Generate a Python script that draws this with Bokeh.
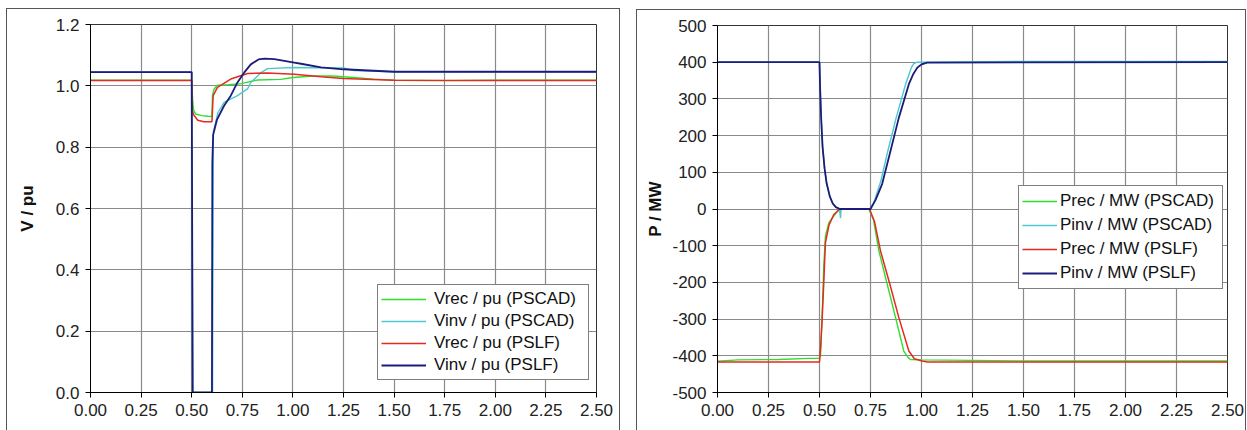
from bokeh.plotting import figure
from bokeh.layouts import row
from bokeh.models import Legend, LegendItem, FixedTicker, NumeralTickFormatter, Range1d
from bokeh.embed import file_html
from bokeh.resources import INLINE

# ---------------- Left panel: voltages (pu) ----------------
t_vrec_pscad = [0.0, 0.5, 0.502, 0.505, 0.51, 0.52, 0.55, 0.58, 0.6, 0.603, 0.61, 0.627, 0.68, 0.743, 0.825,
                0.94, 1.0, 1.1, 1.2, 1.3, 1.4, 1.5, 1.75, 2.0, 2.25, 2.5]
v_vrec_pscad = [1.018, 1.018, 0.99, 0.95, 0.92, 0.908, 0.903, 0.901, 0.90, 0.97, 0.989, 1.002, 1.004, 1.007, 1.019,
                1.021, 1.027, 1.032, 1.032, 1.027, 1.022, 1.018, 1.017, 1.018, 1.018, 1.018]

t_vinv_pscad = [0.0, 0.5, 0.505, 0.603, 0.607, 0.63, 0.66, 0.726, 0.776, 0.792, 0.842, 0.875, 1.0, 1.25, 1.3,
                1.5, 2.0, 2.5]
v_vinv_pscad = [1.045, 1.045, 0.0, 0.0, 0.85, 0.913, 0.946, 0.968, 0.99, 1.011, 1.043, 1.056, 1.06, 1.058, 1.05,
                1.046, 1.046, 1.045]

t_vrec_pslf = [0.0, 0.5, 0.503, 0.51, 0.53, 0.56, 0.6, 0.606, 0.627, 0.693, 0.776, 0.875, 1.007, 1.139,
               1.25, 1.5, 2.0, 2.5]
v_vrec_pslf = [1.017, 1.017, 0.919, 0.905, 0.888, 0.883, 0.883, 0.968, 0.995, 1.022, 1.04, 1.042, 1.038, 1.03,
               1.024, 1.018, 1.017, 1.017]

t_vinv_pslf = [0.0, 0.5, 0.505, 0.6, 0.602, 0.606, 0.625, 0.66, 0.693, 0.726, 0.759, 0.792, 0.83, 0.86,
               0.908, 1.007, 1.04, 1.139, 1.25, 1.5, 2.0, 2.5]
v_vinv_pslf = [1.045, 1.045, 0.0, 0.0, 0.75, 0.84, 0.89, 0.935, 0.968, 1.011, 1.043, 1.07, 1.086, 1.089,
               1.087, 1.076, 1.072, 1.06, 1.054, 1.046, 1.046, 1.046]

# ---------------- Right panel: powers (MW) ----------------
t_prec_pscad = [0.0, 0.1, 0.3, 0.45, 0.5, 0.505, 0.513, 0.521, 0.529, 0.546, 0.57, 0.59, 0.6, 0.742, 0.765,
                0.791, 0.832, 0.873, 0.913, 0.935, 0.946, 1.0, 1.5, 2.0, 2.5]
p_prec_pscad = [-415, -411, -410, -407, -407, -400, -292, -155, -74, -37, -19, -5, 0, 0, -30,
                -114, -205, -296, -387, -405, -410, -411, -414, -414, -414]

t_pinv_pscad = [0.0, 0.5, 0.503, 0.508, 0.515, 0.525, 0.535, 0.55, 0.565, 0.58, 0.598, 0.603, 0.606, 0.745,
                0.765, 0.8, 0.835, 0.876, 0.922, 0.95, 0.962, 0.979, 1.5, 2.5]
p_pinv_pscad = [400, 400, 330, 250, 170, 110, 70, 35, 15, 5, 0, -25, 0, 0,
                15, 75, 158, 249, 340, 385, 396, 400, 402, 402]

t_prec_pslf = [0.0, 0.5, 0.505, 0.513, 0.521, 0.529, 0.546, 0.57, 0.6, 0.745, 0.77, 0.799, 0.845, 0.889,
               0.938, 0.965, 1.003, 1.03, 2.5]
p_prec_pslf = [-417, -417, -380, -300, -200, -92, -45, -15, 0, 0, -35, -114, -205, -296,
               -387, -408, -414, -417, -417]

t_pinv_pslf = [0.0, 0.5, 0.503, 0.508, 0.515, 0.525, 0.535, 0.55, 0.565, 0.58, 0.6, 0.75, 0.775, 0.807,
               0.848, 0.889, 0.938, 0.96, 0.979, 1.0, 1.028, 2.5]
p_pinv_pslf = [400, 400, 330, 250, 170, 110, 70, 35, 15, 5, 0, 0, 25, 68,
               158, 249, 340, 368, 385, 394, 399, 400]

x_ticks = [0.0, 0.25, 0.5, 0.75, 1.0, 1.25, 1.5, 1.75, 2.0, 2.25, 2.5]
v_ticks = [0.0, 0.2, 0.4, 0.6, 0.8, 1.0, 1.2]
p_ticks = [-500, -400, -300, -200, -100, 0, 100, 200, 300, 400, 500]

labels_v = ["Vrec / pu (PSCAD)", "Vinv / pu (PSCAD)", "Vrec / pu (PSLF)", "Vinv / pu (PSLF)"]
labels_p = ["Prec / MW (PSCAD)", "Pinv / MW (PSCAD)", "Prec / MW (PSLF)", "Pinv / MW (PSLF)"]

COLORS = ["#2ee02e", "#4cc9cf", "#e62a1e", "#1c1c7a"]
WIDTHS = [1.4, 1.4, 1.5, 1.8]
FONT = "Liberation Sans"


def make_fig(width, height, borders, yrange, yticks, yfmt, ylabel, label_standoff):
    p = figure(width=width, height=height, output_backend="svg", toolbar_location=None,
               x_range=Range1d(0, 2.5), y_range=Range1d(*yrange),
               min_border_left=borders[0], min_border_right=borders[1],
               min_border_top=borders[2], min_border_bottom=borders[3])
    p.background_fill_color = "white"
    p.border_fill_color = "white"
    p.outline_line_color = "#333333"
    p.outline_line_width = 1
    for ax in (p.xaxis[0], p.yaxis[0]):
        ax.axis_line_color = "black"
        ax.axis_line_width = 1
        ax.major_tick_line_color = "black"
        ax.major_tick_out = 5
        ax.major_tick_in = 0
        ax.minor_tick_out = 0
        ax.minor_tick_in = 0
        ax.major_label_text_font = FONT
        ax.major_label_text_font_size = "17px"
        ax.major_label_text_color = "#222222"
    p.xaxis.ticker = FixedTicker(ticks=x_ticks)
    p.xaxis.formatter = NumeralTickFormatter(format="0.00")
    p.xaxis.major_label_standoff = 6
    p.yaxis.ticker = FixedTicker(ticks=yticks)
    p.yaxis.formatter = NumeralTickFormatter(format=yfmt)
    p.yaxis.major_label_standoff = 6
    p.yaxis.axis_label = ylabel
    p.yaxis.axis_label_text_font = FONT
    p.yaxis.axis_label_text_font_size = "17px"
    p.yaxis.axis_label_text_font_style = "bold"
    p.yaxis.axis_label_text_color = "#111111"
    p.yaxis.axis_label_standoff = label_standoff
    p.grid.grid_line_color = "#8a8a8a"
    p.grid.grid_line_width = 1.2
    p.grid.grid_line_alpha = 1.0
    p.xgrid.ticker = FixedTicker(ticks=x_ticks)
    p.ygrid.ticker = FixedTicker(ticks=yticks)
    return p


def add_series(p, series, labels, loc, glyph_w, glyph_h, standoff, label_w):
    items = []
    for (tx, vy), lab, c, w in zip(series, labels, COLORS, WIDTHS):
        r = p.line(tx, vy, line_color=c, line_width=w)
        items.append(LegendItem(label=lab, renderers=[r]))
    leg = Legend(items=items, location=loc)
    leg.label_text_font = FONT
    leg.label_text_font_size = "17px"
    leg.label_text_color = "#111111"
    leg.glyph_width = glyph_w
    leg.glyph_height = glyph_h
    leg.label_height = glyph_h
    leg.label_standoff = standoff
    leg.padding = 3
    leg.spacing = 0
    leg.margin = 0
    leg.label_width = label_w
    leg.border_line_color = "black"
    leg.border_line_width = 1
    leg.background_fill_color = "white"
    leg.background_fill_alpha = 1.0
    p.add_layout(leg, "center")


p1 = make_fig(612, 421, (83, 23, 14, 37), (0, 1.2), v_ticks, "0.0", "V / pu", 16)
add_series(p1, [(t_vrec_pscad, v_vrec_pscad), (t_vinv_pscad, v_vinv_pscad),
                (t_vrec_pslf, v_vrec_pslf), (t_vinv_pslf, v_vinv_pslf)], labels_v, (287, 12),
           45, 22, 8, 151)

p2 = make_fig(608, 420, (80, 18, 15, 38), (-500, 500), p_ticks, "0", "P / MW", 4)
add_series(p2, [(t_prec_pscad, p_prec_pscad), (t_pinv_pscad, p_pinv_pscad),
                (t_prec_pslf, p_prec_pslf), (t_pinv_pslf, p_pinv_pslf)], labels_p, (301, 103),
           35, 24, 3, 159)

p1.margin = (9, 0, 0, 7)
p2.margin = (10, 0, 0, 18)
p1.styles = {"outline": "1.5px solid #555555"}
p2.styles = {"outline": "1.5px solid #555555"}

layout = row(p1, p2)
layout.margin = 0
open("out.html", "w").write(file_html(layout, INLINE))
